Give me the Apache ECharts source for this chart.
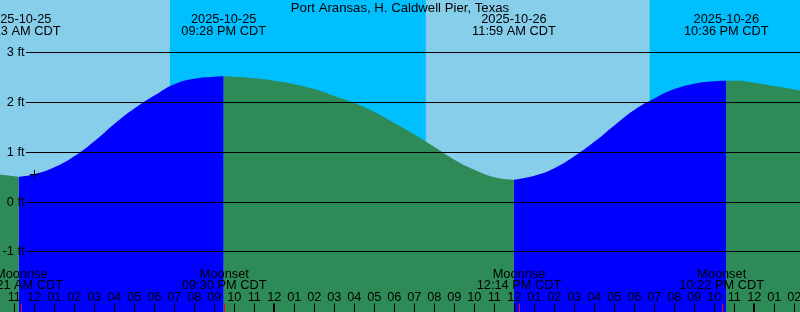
<!DOCTYPE html>
<html><head><meta charset="utf-8">
<script src="https://cdn.jsdelivr.net/npm/echarts@6/dist/echarts.min.js"></script>
<style>html,body{margin:0;padding:0;background:#87CEEB;overflow:hidden}#c{width:800px;height:312px}</style>
</head><body><div id="c"></div>
<script>
// Hours counted from 2025-10-25 00:00 CDT
const chartTitle = 'Port Aransas, H. Caldwell Pier, Texas';
const axisStart = 10.285;
const axisEnd = 50.285;
const yMin = -2.22;
const yMax = 4.051;

const tideHours = [10, 11, 11.217, 12, 13, 14, 15, 16, 17, 18, 19, 20, 21, 21.467, 22, 23, 24, 25, 26, 27, 28, 29, 30, 31, 32, 33, 34, 35, 35.983, 37, 38, 39, 40, 41, 42, 43, 44, 45, 46, 46.6, 47, 48, 49, 50, 51];
const tideFeet  = [0.56, 0.51, 0.50, 0.55, 0.69, 0.91, 1.21, 1.56, 1.87, 2.13, 2.36, 2.47, 2.51, 2.52, 2.51, 2.48, 2.43, 2.36, 2.26, 2.12, 1.98, 1.80, 1.58, 1.35, 1.10, 0.84, 0.64, 0.49, 0.44, 0.52, 0.67, 0.91, 1.20, 1.53, 1.84, 2.07, 2.26, 2.37, 2.42, 2.43, 2.43, 2.39, 2.32, 2.25, 2.17];

const extremeHours = [11.217, 21.467, 35.983, 46.6];
const extremeKinds = ['low', 'high', 'low', 'high'];
const extremeDates = ['2025-10-25', '2025-10-25', '2025-10-26', '2025-10-26'];
const extremeTimes = ['11:13 AM CDT', '09:28 PM CDT', '11:59 AM CDT', '10:36 PM CDT'];

const moonHours = [11.35, 21.5, 36.233, 46.367];
const moonNames = ['Moonrise', 'Moonset', 'Moonrise', 'Moonset'];
const moonTimes = ['11:21 AM CDT', '09:30 PM CDT', '12:14 PM CDT', '10:22 PM CDT'];

const sunsetHours = [18.78, 42.77];
const sunriseHours = [31.58];

const hourTicks = [11,12,13,14,15,16,17,18,19,20,21,22,23,24,25,26,27,28,29,30,31,32,33,34,35,36,37,38,39,40,41,42,43,44,45,46,47,48,49,50];
const hourLabels = ['11','12','01','02','03','04','05','06','07','08','09','10','11','12','01','02','03','04','05','06','07','08','09','10','11','12','01','02','03','04','05','06','07','08','09','10','11','12','01','02'];
const midnightHours = [24, 48];

const footTicks = [-1, 0, 1, 2, 3];
const footLabels = ['-1 ft', '0 ft', '1 ft', '2 ft', '3 ft'];

const markerHour = 12;
const markerFeet = 0.55;

const DAY = '#87CEEB', NIGHT = '#00BFFF', RISE = '#0000FF', FALL = '#2E8B57';
const FAMILY = '"Liberation Sans", Arial, sans-serif';
const FONT = '12.8px ' + FAMILY;

function txt(s, x, y, align) {
  return {type: 'text', style: {text: s, x: x, y: y, align: align || 'center', verticalAlign: 'middle', font: FONT, fill: '#000'}};
}

// day / night bands
const bandEdges = [axisStart - 1].concat(sunsetHours.concat(sunriseHours).sort((a, b) => a - b)).concat([axisEnd + 1]);
const bands = [];
for (let i = 0; i < bandEdges.length - 1; i++) {
  const isNight = sunsetHours.indexOf(bandEdges[i]) >= 0 ? 1 : 0;
  bands.push([bandEdges[i], bandEdges[i + 1], isNight]);
}

// split tide into rising / falling segments
const bounds = [tideHours[0]].concat(extremeHours).concat([tideHours[tideHours.length - 1]]);
function segKind(k) {
  if (k < extremeKinds.length) return extremeKinds[k] === 'low' ? 'fall' : 'rise';
  return extremeKinds[extremeKinds.length - 1] === 'high' ? 'fall' : 'rise';
}
function segData(kind) {
  return tideHours.map((t, i) => {
    let inside = false;
    for (let k = 0; k < bounds.length - 1; k++) {
      if (t >= bounds[k] && t <= bounds[k + 1] && segKind(k) === kind) inside = true;
    }
    return [t, inside ? tideFeet[i] : '-'];
  });
}

const chart = echarts.init(document.getElementById('c'), null, {renderer: 'canvas'});
chart.setOption({
  animation: false,
  backgroundColor: DAY,
  title: {text: chartTitle, left: 'center', top: 2, padding: 0,
    textStyle: {fontSize: 13.2, fontWeight: 'normal', color: '#000', fontFamily: FAMILY}},
  grid: {left: 0, right: 0, top: 0, bottom: 0, containLabel: false},
  xAxis: {type: 'value', min: axisStart, max: axisEnd, show: false},
  yAxis: {type: 'value', min: yMin, max: yMax, show: false},
  series: [
    {
      type: 'custom', name: 'daylight', z: 1, silent: true,
      data: bands,
      renderItem: function (params, api) {
        const p0 = api.coord([api.value(0), yMax]);
        const p1 = api.coord([api.value(1), yMin]);
        return {type: 'rect', shape: {x: p0[0], y: p0[1], width: p1[0] - p0[0], height: p1[1] - p0[1]},
          style: {fill: bands[params.dataIndex][2] ? NIGHT : DAY}};
      }
    },
    {
      type: 'line', name: 'Rising', z: 2, data: segData('rise'), smooth: 0.5, showSymbol: false,
      connectNulls: false, lineStyle: {width: 0}, itemStyle: {color: RISE},
      areaStyle: {color: RISE, opacity: 1, origin: 'start'}
    },
    {
      type: 'line', name: 'Falling', z: 2, data: segData('fall'), smooth: 0.5, showSymbol: false,
      connectNulls: false, lineStyle: {width: 0}, itemStyle: {color: FALL},
      areaStyle: {color: FALL, opacity: 1, origin: 'start'}
    },
    {
      type: 'custom', name: 'feet', z: 10, silent: true,
      data: footTicks.map(v => [axisStart, v]),
      renderItem: function (params, api) {
        const y = Math.round(api.coord([axisStart, api.value(1)])[1]) + 0.5;
        const w = params.coordSys.x + params.coordSys.width;
        return {type: 'group', children: [
          {type: 'line', shape: {x1: 26, y1: y, x2: w, y2: y}, style: {stroke: '#000', lineWidth: 1}},
          txt(footLabels[params.dataIndex], 24.5, y, 'right')
        ]};
      }
    },
    {
      type: 'custom', name: 'extremes', z: 10, silent: true,
      data: extremeHours.map(t => [t, 0]),
      renderItem: function (params, api) {
        const x = api.coord([api.value(0), 0])[0];
        const i = params.dataIndex;
        return {type: 'group', children: [
          txt(extremeDates[i], x, 19.8),
          txt(extremeTimes[i], x, 31.6)
        ]};
      }
    },
    {
      type: 'custom', name: 'moon', z: 10, silent: true,
      data: moonHours.map(t => [t, 0]),
      renderItem: function (params, api) {
        const x = api.coord([api.value(0), 0])[0];
        const xr = Math.round(x) + 0.5;
        const i = params.dataIndex;
        return {type: 'group', children: [
          txt(moonNames[i], x, 274),
          txt(moonTimes[i], x, 285.8),
          {type: 'line', shape: {x1: xr, y1: 303.5, x2: xr, y2: 312}, style: {stroke: '#FF0000', lineWidth: 1}}
        ]};
      }
    },
    {
      type: 'custom', name: 'hours', z: 10, silent: true,
      data: hourTicks.map(h => [h, 0]),
      renderItem: function (params, api) {
        const h = api.value(0);
        const x = api.coord([h, 0])[0];
        const isMid = midnightHours.indexOf(h) >= 0;
        const xr = isMid ? Math.round(x) : Math.round(x) + 0.5;
        return {type: 'group', children: [
          txt(hourLabels[params.dataIndex], x, 297.8),
          {type: 'line', shape: {x1: xr, y1: 303.5, x2: xr, y2: 312}, style: {stroke: '#000', lineWidth: isMid ? 2 : 1}}
        ]};
      }
    },
    {
      type: 'custom', name: 'marker', z: 11, silent: true,
      data: [[markerHour, markerFeet]],
      renderItem: function (params, api) {
        const p = api.coord([api.value(0), api.value(1)]);
        const x = Math.round(p[0]) + 0.5, y = Math.round(p[1]) + 0.5;
        return {type: 'group', children: [
          {type: 'line', shape: {x1: x - 4.5, y1: y, x2: x + 4.5, y2: y}, style: {stroke: '#000', lineWidth: 1}},
          {type: 'line', shape: {x1: x, y1: y - 4.5, x2: x, y2: y + 4.5}, style: {stroke: '#000', lineWidth: 1}}
        ]};
      }
    }
  ]
});
</script>
</body></html>
